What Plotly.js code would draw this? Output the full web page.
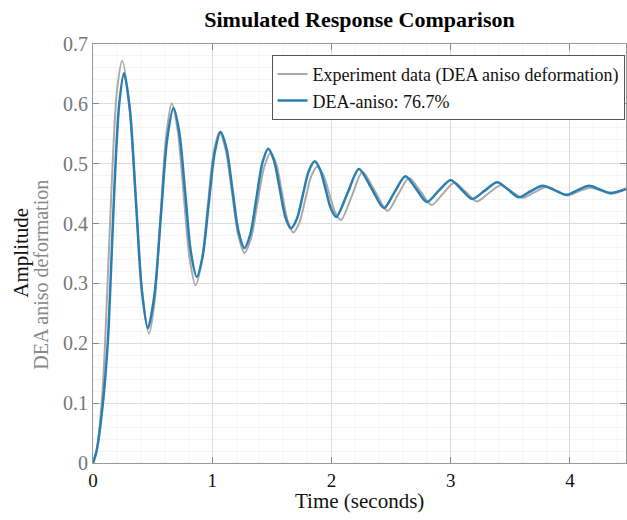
<!DOCTYPE html>
<html>
<head>
<meta charset="utf-8">
<script src="https://cdn.plot.ly/plotly-3.0.1.min.js"></script>
<style>html,body{margin:0;padding:0;background:#fff;}#chart{width:627px;height:520px;}</style>
</head>
<body>
<div id="chart"></div>
<script>
// Experiment data (DEA aniso deformation)
var expT = [0, 0.03, 0.08, 0.12, 0.16, 0.2, 0.245, 0.301, 0.358, 0.414, 0.47, 0.518, 0.565, 0.613, 0.66, 0.71, 0.76, 0.81, 0.86, 0.91, 0.96, 1.01, 1.06, 1.113, 1.165, 1.218, 1.27, 1.325, 1.38, 1.435, 1.49, 1.538, 1.585, 1.633, 1.68, 1.73, 1.78, 1.83, 1.88, 1.93, 1.98, 2.03, 2.08, 2.17, 2.26, 2.365, 2.47, 2.56, 2.65, 2.745, 2.84, 2.935, 3.03, 3.125, 3.22, 3.32, 3.42, 3.51, 3.6, 3.7, 3.8, 3.89, 3.98, 4.075, 4.17, 4.26, 4.35, 4.47];
var expV = [0, 0.02, 0.12, 0.29, 0.48, 0.62, 0.672, 0.605, 0.444, 0.283, 0.216, 0.272, 0.409, 0.545, 0.601, 0.556, 0.449, 0.342, 0.297, 0.334, 0.425, 0.516, 0.553, 0.523, 0.452, 0.381, 0.351, 0.375, 0.435, 0.494, 0.518, 0.499, 0.452, 0.404, 0.385, 0.401, 0.44, 0.479, 0.495, 0.482, 0.451, 0.419, 0.406, 0.446, 0.486, 0.454, 0.421, 0.449, 0.476, 0.454, 0.431, 0.45, 0.468, 0.453, 0.437, 0.451, 0.464, 0.454, 0.443, 0.452, 0.461, 0.454, 0.447, 0.454, 0.46, 0.455, 0.45, 0.457];
// Model output, DEA-aniso: 76.7% fit
var modT = [0, 0.03, 0.08, 0.125, 0.15, 0.185, 0.22, 0.26, 0.31, 0.36, 0.41, 0.46, 0.514, 0.568, 0.621, 0.675, 0.724, 0.773, 0.821, 0.87, 0.92, 0.97, 1.02, 1.07, 1.12, 1.17, 1.22, 1.27, 1.32, 1.37, 1.42, 1.47, 1.518, 1.565, 1.613, 1.66, 1.71, 1.76, 1.81, 1.86, 1.905, 1.95, 1.995, 2.04, 2.135, 2.23, 2.335, 2.44, 2.53, 2.62, 2.71, 2.8, 2.9, 3.0, 3.09, 3.18, 3.285, 3.39, 3.48, 3.57, 3.67, 3.77, 3.87, 3.97, 4.065, 4.16, 4.25, 4.34, 4.47];
var modV = [0, 0.02, 0.094, 0.205, 0.317, 0.484, 0.6, 0.651, 0.589, 0.438, 0.287, 0.225, 0.279, 0.409, 0.539, 0.593, 0.552, 0.452, 0.352, 0.311, 0.346, 0.432, 0.518, 0.553, 0.525, 0.456, 0.387, 0.359, 0.383, 0.442, 0.501, 0.525, 0.505, 0.459, 0.411, 0.392, 0.408, 0.448, 0.488, 0.504, 0.49, 0.458, 0.425, 0.411, 0.451, 0.491, 0.459, 0.426, 0.453, 0.479, 0.458, 0.436, 0.455, 0.473, 0.457, 0.441, 0.455, 0.469, 0.457, 0.444, 0.454, 0.463, 0.456, 0.448, 0.456, 0.463, 0.457, 0.451, 0.458];
var xTicks = [0, 1, 2, 3, 4];
var yTicks = [0, 0.1, 0.2, 0.3, 0.4, 0.5, 0.6, 0.7];

var serif = "Liberation Serif, Times New Roman, serif";
var traces = [
  {x: expT, y: expV, mode: 'lines', name: 'Experiment data (DEA aniso deformation)',
   line: {color: '#a9a9a9', width: 2, shape: 'spline', smoothing: 0.8}},
  {x: modT, y: modV, mode: 'lines', name: 'DEA-aniso: 76.7%',
   line: {color: '#2a7fb0', width: 2.5, shape: 'spline', smoothing: 0.8}}
];
var layout = {
  width: 627, height: 520,
  margin: {l: 93, r: 1, t: 44, b: 57},
  paper_bgcolor: '#fff', plot_bgcolor: '#fff',
  font: {family: serif, size: 16, color: '#000'},
  title: {text: '<b>Simulated Response Comparison</b>', x: 0.5, xref: 'paper', y: 0.962, yanchor: 'middle',
          font: {family: serif, size: 22, color: '#000'}},
  showlegend: true,
  legend: {x: 0.335, xanchor: 'left', y: 0.974, yanchor: 'top', bgcolor: '#fff',
           bordercolor: '#555', borderwidth: 1, font: {family: serif, size: 18, color: '#111'},
           tracegroupgap: 0},
  xaxis: {range: [0, 4.47], tickvals: xTicks, ticktext: xTicks.map(String), ticks: 'inside', ticklen: 6,
          tickcolor: '#888', showline: true, linecolor: '#999', linewidth: 1, mirror: 'ticks',
          showgrid: true, gridcolor: '#dcdcdc', zeroline: false,
          tickfont: {family: serif, size: 19, color: '#111'},
          minor: {dtick: 0.2, showgrid: true, gridcolor: '#f6f6f6'}},
  yaxis: {range: [0, 0.7], tickvals: yTicks, ticktext: yTicks.map(function(v){return v===0?'0':v.toFixed(1);}),
          ticks: 'inside', ticklen: 6, tickcolor: '#888', showline: true, linecolor: '#999', linewidth: 1,
          mirror: 'ticks', showgrid: true, gridcolor: '#dcdcdc', zeroline: false,
          tickfont: {family: serif, size: 20, color: '#777'},
          minor: {dtick: 0.02, showgrid: true, gridcolor: '#f3f3f3'}},
  annotations: [
    {text: 'Time (seconds)', xref: 'paper', yref: 'paper', x: 0.5, y: -0.09, xanchor: 'center', yanchor: 'middle',
     showarrow: false, font: {family: serif, size: 21, color: '#111'}},
    {text: 'Amplitude', xref: 'paper', yref: 'paper', x: -0.135, y: 0.502, xanchor: 'center', yanchor: 'middle',
     textangle: -90, showarrow: false, font: {family: serif, size: 21, color: '#111'}},
    {text: 'DEA aniso deformation', xref: 'paper', yref: 'paper', x: -0.097, y: 0.45, xanchor: 'center', yanchor: 'middle',
     textangle: -90, showarrow: false, font: {family: serif, size: 20, color: '#888'}}
  ]
};
Plotly.newPlot('chart', traces, layout, {displayModeBar: false, staticPlot: true});
</script>
</body>
</html>
